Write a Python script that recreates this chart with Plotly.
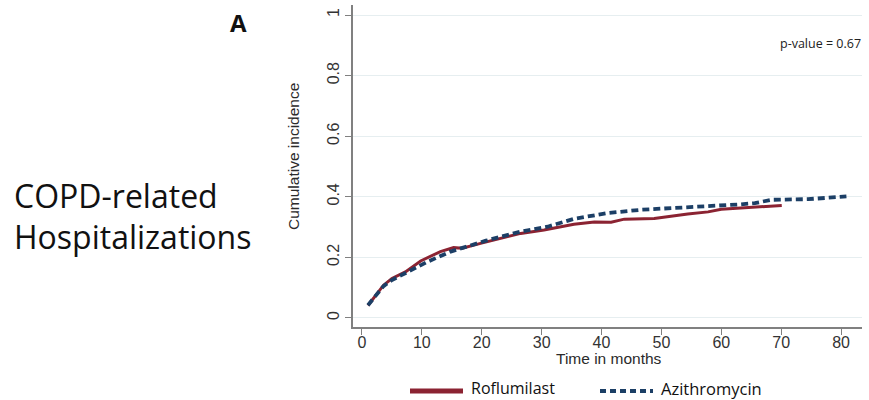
import plotly.graph_objects as go

# ---- data ----
months_roflumilast = [1.0, 2.5, 3.6, 5.0, 7.25, 9.8, 13.1, 15.3, 16.75, 19.8, 23.2, 26.5,
                      30.4, 35.4, 38.8, 41.6, 43.8, 48.8, 54.4, 57.8, 60.0, 65.6, 70.1]
incidence_roflumilast = [0.041, 0.078, 0.108, 0.130, 0.152, 0.188, 0.219, 0.232, 0.230,
                         0.246, 0.263, 0.279, 0.290, 0.309, 0.317, 0.316, 0.326, 0.328,
                         0.343, 0.350, 0.359, 0.365, 0.371]
months_azithromycin = [1.0, 2.5, 3.6, 5.0, 7.25, 9.2, 10.9, 14.8, 20.7, 26.5, 31.0, 35.4,
                       41.0, 46.6, 52.2, 57.8, 63.3, 65.6, 68.4, 74.5, 80.9]
incidence_azithromycin = [0.042, 0.080, 0.105, 0.125, 0.148, 0.171, 0.185, 0.219, 0.255,
                          0.285, 0.301, 0.327, 0.346, 0.357, 0.362, 0.368, 0.375, 0.379,
                          0.390, 0.392, 0.401]
x_ticks = [0, 10, 20, 30, 40, 50, 60, 70, 80]
y_ticks = [0, 0.2, 0.4, 0.6, 0.8, 1]
y_tick_labels = ["0", "0.2", "0.4", "0.6", "0.8", "1"]
series_names = ["Roflumilast", "Azithromycin"]

RED = "#8b2332"
NAVY = "#1c3f66"
W, H = 869, 400
L, R, T, B = 353, 862, 5, 327


def px(xp):
    return (xp - L) / (R - L)


def py(yp):
    return (B - yp) / (B - T)


fig = go.Figure()
fig.add_trace(go.Scatter(x=months_roflumilast, y=incidence_roflumilast, mode="lines",
                         name=series_names[0], line=dict(color=RED, width=3),
                         showlegend=False))
fig.add_trace(go.Scatter(x=months_azithromycin, y=incidence_azithromycin, mode="lines",
                         name=series_names[1],
                         line=dict(color=NAVY, width=3.8, dash="7px,4px"),
                         showlegend=False))

axis_font = dict(family="Liberation Sans, Arial", size=16, color="#333333")
fig.update_layout(
    width=W, height=H,
    margin=dict(l=L, r=W - R, t=T, b=H - B),
    paper_bgcolor="white", plot_bgcolor="white",
    xaxis=dict(range=[-1.5, 83.5], tickvals=x_ticks, showgrid=False, zeroline=False,
               showline=True, linecolor="#808080", linewidth=1.5, ticks="outside",
               ticklen=6, tickcolor="#808080", tickfont=axis_font,
               ticklabelstandoff=-6),
    yaxis=dict(range=[-0.03, 1.033], tickvals=y_ticks, ticktext=y_tick_labels,
               tickangle=-90, showgrid=True, gridcolor="#e6eef0", gridwidth=1,
               zeroline=False, showline=True, linecolor="#808080", linewidth=1.5,
               ticks="outside", ticklen=6, tickcolor="#808080", tickfont=axis_font),
)


def note(text, xp, yp, size, family="Open Sans", xanchor="center", angle=0,
         color="#111111"):
    return dict(text=text, x=px(xp), y=py(yp), xref="paper", yref="paper",
                xanchor=xanchor, yanchor="middle", textangle=angle, showarrow=False,
                font=dict(family=family, size=size, color=color))


ann = [
    note("Time in months", 609, 358, 15.5, "Liberation Sans, Arial", color="#2a2a2a"),
    note("Cumulative incidence", 293, 157, 15.5, "Liberation Sans, Arial", angle=-90,
         color="#2a2a2a"),
    note("p-value = 0.67", 863, 44, 12.5, xanchor="right", color="#222222"),
    note("<b>A</b>", 238, 22, 24),
    note("COPD-related", 12, 195, 32, xanchor="left"),
    note("Hospitalizations", 12, 236, 32, xanchor="left"),
    note(series_names[0], 469, 388, 16, xanchor="left"),
    note(series_names[1], 659, 388, 16.5, xanchor="left"),
]
fig.update_layout(annotations=ann)

fig.add_shape(type="line", xref="paper", yref="paper", x0=px(410), x1=px(463),
              y0=py(391), y1=py(391), line=dict(color=RED, width=5))
fig.add_shape(type="line", xref="paper", yref="paper", x0=px(600), x1=px(653),
              y0=py(391), y1=py(391), line=dict(color=NAVY, width=4, dash="6px,4px"))

fig.write_html("out.html", config={"displayModeBar": False},
               post_script="document.body.style.margin='0';document.body.style.padding='0';")
